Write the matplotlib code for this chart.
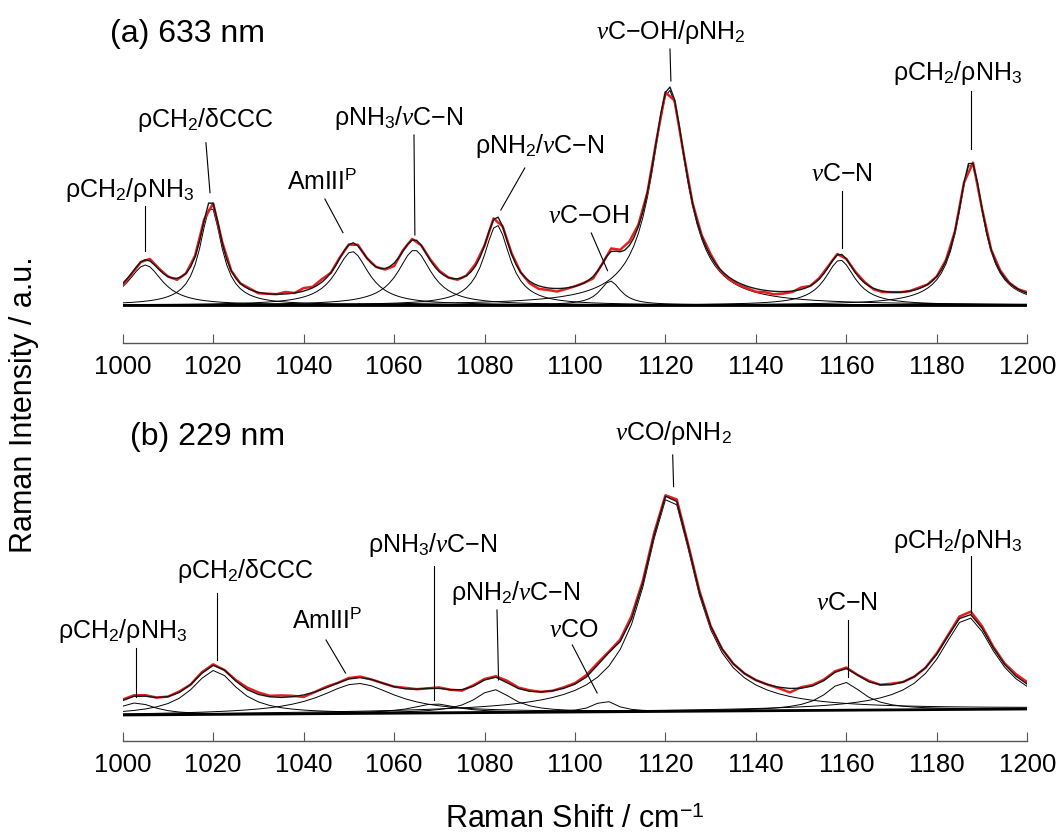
import matplotlib
matplotlib.use("Agg")
import matplotlib.pyplot as plt
import numpy as np


SHIFT_MIN, SHIFT_MAX = 1000, 1200
TICKS = list(range(1000, 1201, 20))

# (a) 633 nm -- fitted bands: centre (cm-1), height (a.u.), half-width (cm-1)
CENTRES_A = [1005.0, 1019.5, 1050.7, 1064.5, 1082.7, 1107.8, 1120.8, 1158.6, 1187.5]
HEIGHTS_A = [0.40, 0.985, 0.535, 0.55, 0.80, 0.24, 2.15, 0.45, 1.42]
HWHM_A = [4.6, 2.9, 4.5, 4.5, 3.5, 2.8, 4.8, 4.0, 3.5]
# measured minus fit, every 2 cm-1 from 1000 to 1200
RESID_A = [
    -0.02, -0.01, 0.00, 0.02, 0.01, 0.00, -0.015, 0.00, 0.01, 0.01,
    0.00, 0.01, 0.00, 0.00, 0.01, -0.01, 0.00, 0.00, 0.02, 0.00,
    0.03, 0.01, 0.03, 0.00, 0.01, 0.00, 0.01, 0.00, 0.00, -0.01,
    -0.03, 0.01, 0.01, 0.00, 0.01, 0.01, 0.00, -0.01, 0.00, 0.02,
    0.00, 0.01, 0.00, 0.01, 0.00, -0.02, -0.03, -0.02, -0.03, -0.01,
    0.00, 0.00, -0.02, 0.00, 0.03, 0.02, 0.04, 0.02, 0.00, 0.00,
    0.00, -0.01, 0.00, 0.00, 0.01, 0.02, -0.01, -0.02, -0.02, -0.02,
    -0.03, -0.02, -0.03, -0.02, -0.01, 0.02, 0.00, 0.01, 0.01, 0.01,
    0.00, 0.01, 0.01, -0.01, -0.01, 0.00, 0.00, 0.00, 0.01, 0.00,
    0.00, 0.01, 0.00, 0.00, 0.01, 0.00, 0.00, 0.01, 0.00, 0.00, 0.01,
]

# (b) 229 nm
CENTRES_B = [1003.0, 1020.3, 1052.0, 1069.0, 1082.0, 1106.6, 1121.0, 1159.5, 1186.8]
HEIGHTS_B = [0.12, 0.44, 0.30, 0.09, 0.23, 0.11, 2.16, 0.28, 0.92]
HWHM_B = [5.0, 6.0, 10.0, 6.0, 5.0, 3.0, 7.0, 5.0, 7.5]
BASELINE_B = [0.0, 0.06]  # at 1000 and 1200 cm-1
# measured minus fit, every 2.5 cm-1 from 1000 to 1200
RESID_B = [
    0.01, 0.01, 0.01, 0.00, 0.00, 0.01, 0.00, 0.01, 0.01, 0.00,
    0.01, 0.02, 0.02, 0.01, 0.02, 0.01, -0.02, 0.00, 0.01, 0.00,
    0.01, 0.01, 0.00, 0.00, 0.00, 0.01, 0.00, 0.00, 0.01, 0.00,
    -0.01, 0.01, 0.01, 0.01, 0.02, 0.01, 0.01, 0.00, 0.00, 0.01,
    0.01, 0.02, 0.02, 0.01, 0.02, 0.03, 0.02, 0.02, 0.01, 0.02,
    0.01, 0.01, 0.00, 0.00, 0.00, 0.00, 0.00, 0.00, -0.01, -0.04,
    0.01, 0.01, 0.01, 0.01, 0.01, 0.00, 0.01, 0.00, 0.01, 0.00,
    0.00, 0.00, 0.01, 0.01, 0.02, 0.03, 0.02, 0.01, 0.01, 0.02, 0.02,
]

NU = r"$\nu$"

LABELS_A = [
    ("ρCH$_2$/ρNH$_3$", 1001.5, 1.083),
    ("ρCH$_2$/δCCC", 1018.3, 1.777),
    ("AmIII$^{\\mathrm{P}}$", 1044.0, 1.16),
    ("ρNH$_3$/" + NU + "C−N", 1061.1, 1.80),
    ("ρNH$_2$/" + NU + "C−N", 1092.2, 1.523),
    (NU + "C−OH", 1103.0, 0.823),
    (NU + "C−OH/ρNH$_2$", 1121.2, 2.657),
    (NU + "C−N", 1159.1, 1.24),
    ("ρCH$_2$/ρNH$_3$", 1184.7, 2.25),
]
LEADERS_A = [
    (1004.9, 0.993, 1004.9, 0.543),
    (1018.4, 1.623, 1019.3, 1.123),
    (1044.7, 1.06, 1048.7, 0.723),
    (1064.4, 1.70, 1064.6, 0.70),
    (1088.9, 1.37, 1083.6, 0.95),
    (1103.6, 0.72, 1107.2, 0.343),
    (1121.0, 2.56, 1121.2, 2.24),
    (1159.1, 1.143, 1159.1, 0.57),
    (1187.5, 2.143, 1187.5, 1.56),
]

LABELS_B = [
    ("ρCH$_2$/ρNH$_3$", 1000.0, 0.773),
    ("ρCH$_2$/δCCC", 1027.2, 1.367),
    ("AmIII$^{\\mathrm{P}}$", 1045.1, 0.867),
    ("ρNH$_3$/" + NU + "C−N", 1068.6, 1.633),
    ("ρNH$_2$/" + NU + "C−N", 1086.8, 1.15),
    (NU + "CO", 1099.8, 0.783),
    (NU + "CO/ρNH$_2$", 1121.7, 2.75),
    (NU + "C−N", 1160.1, 1.05),
    ("ρCH$_2$/ρNH$_3$", 1184.6, 1.667),
]
LEADERS_B = [
    (1003.05, 0.67, 1003.05, 0.18),
    (1020.85, 1.22, 1020.85, 0.55),
    (1044.95, 0.75, 1049.26, 0.42),
    (1068.9, 1.49, 1068.9, 0.15),
    (1082.75, 1.05, 1083.1, 0.35),
    (1099.4, 0.70, 1104.9, 0.22),
    (1121.6, 2.60, 1121.8, 2.283),
    (1160.4, 0.95, 1160.4, 0.383),
    (1187.55, 1.59, 1187.55, 1.02),
]

RED = "#e3201f"
SPINE = "#555555"

plt.rcParams.update(
    {
        "font.family": ["Liberation Sans", "DejaVu Sans"],
        "mathtext.fontset": "custom",
        "mathtext.rm": "Liberation Sans",
        "mathtext.it": "Liberation Serif:italic",
        "mathtext.bf": "Liberation Sans:bold",
    }
)


def lorentz(x, centre, height, hwhm):
    return height * hwhm**2 / ((x - centre) ** 2 + hwhm**2)


def draw_panel(ax, centres, heights, hwhm, resid, step, base_ends, labels, leaders,
               title, title_x, title_y):
    x = np.arange(SHIFT_MIN, SHIFT_MAX + step / 2, step)
    base = np.interp(x, [SHIFT_MIN, SHIFT_MAX], base_ends)
    comps = [lorentz(x, c, h, w) for c, h, w in zip(centres, heights, hwhm)]
    fit = base + np.sum(comps, axis=0)

    for comp in comps:
        ax.plot(x, base + comp, color="black", lw=0.7)
    ax.plot(x, base, color="black", lw=2.0)

    xm = np.linspace(SHIFT_MIN, SHIFT_MAX, len(resid))
    fit_m = np.interp(xm, [SHIFT_MIN, SHIFT_MAX], base_ends) + np.sum(
        [lorentz(xm, c, h, w) for c, h, w in zip(centres, heights, hwhm)], axis=0
    )
    ax.plot(xm, fit_m + np.array(resid), color=RED, lw=1.8)
    ax.plot(x, fit, color="#151515", lw=1.0)

    for text, tx, ty in labels:
        ax.text(tx, ty, text, ha="center", va="baseline", fontsize=18)
    for x0, y0, x1, y1 in leaders:
        ax.plot([x0, x1], [y0, y1], color="black", lw=0.8)

    ax.text(title_x, title_y, title, ha="left", va="baseline", fontsize=23)

    ax.set_xlim(SHIFT_MIN, SHIFT_MAX)
    ax.set_xticks(TICKS)
    ax.set_yticks([])
    for side in ["left", "right", "top"]:
        ax.spines[side].set_visible(False)
    ax.spines["bottom"].set_color(SPINE)
    ax.spines["bottom"].set_linewidth(1.0)
    ax.tick_params(axis="x", direction="in", length=6.5, width=0.8, color=SPINE,
                   labelsize=18.5, pad=9)
    ax.patch.set_visible(False)


fig = plt.figure(figsize=(10.58, 8.4), dpi=100)
left = 122.7 / 1058
width = 904.6 / 1058

ax_a = fig.add_axes([left, (840 - 343) / 840, width, 343 / 840])
ax_a.set_ylim(-0.38, 3.05)
draw_panel(ax_a, CENTRES_A, HEIGHTS_A, HWHM_A, RESID_A, 1.0, [0.0, 0.0],
           LABELS_A, LEADERS_A, "(a) 633 nm", 997.2, 2.633)

ax_b = fig.add_axes([left, (840 - 741) / 840, width, 361 / 840])
ax_b.set_ylim(-0.26, 3.35)
draw_panel(ax_b, CENTRES_B, HEIGHTS_B, HWHM_B, RESID_B, 2.5, BASELINE_B,
           LABELS_B, LEADERS_B, "(b) 229 nm", 1001.6, 2.70)

fig.text(575 / 1058, 1 - 820 / 840, r"Raman Shift / cm$^{-1}$", ha="center", va="center",
         fontsize=22)
fig.text(24 / 1058, 1 - 405 / 840, "Raman Intensity / a.u.", ha="center", va="center",
         rotation=90, fontsize=22)

fig.savefig("out.png", dpi=100)
